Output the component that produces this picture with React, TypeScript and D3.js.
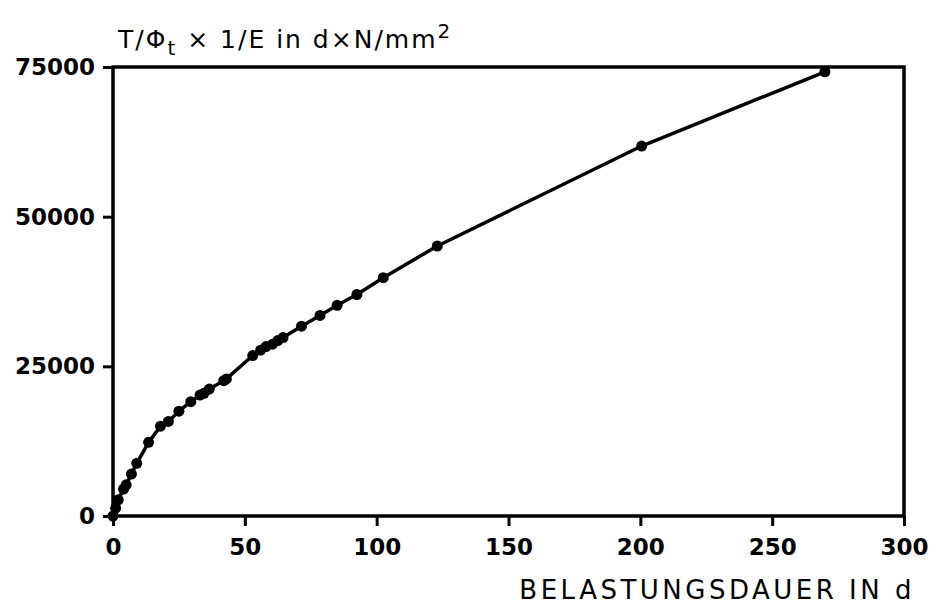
import { useRef, useEffect } from "react";
import * as d3 from "d3";

const days = [0, 1, 2, 4, 5, 7, 9, 13.5, 18, 21, 25, 29.5, 33, 34.5, 36.5, 42, 43, 53, 56, 58, 60.5, 62.5, 64.5, 71.5, 78.5, 85, 92.5, 102.5, 123, 200.5, 270];
const values = [0, 1300, 2700, 4500, 5200, 7000, 8800, 12300, 15000, 15800, 17500, 19100, 20200, 20500, 21200, 22600, 22900, 26800, 27700, 28300, 28700, 29300, 29800, 31700, 33500, 35200, 37000, 39800, 45100, 61800, 74200];
const xTicks = [0, 50, 100, 150, 200, 250, 300];
const yTicks = [0, 25000, 50000, 75000];

const App = () => {
  const ref = useRef<HTMLDivElement>(null);

  useEffect(() => {
    const W = 930;
    const H = 609;
    const margin = { top: 67, right: 26, bottom: 93, left: 113 };
    const width = W - margin.left - margin.right;
    const height = H - margin.top - margin.bottom;
    const font = "'DejaVu Sans', sans-serif";

    const root = d3
      .select(ref.current)
      .html("")
      .append("svg")
      .attr("width", W)
      .attr("height", H)
      .style("position", "absolute")
      .style("left", 0)
      .style("top", 0)
      .style("background", "#fff");

    const svg = root.append("g").attr("transform", `translate(${margin.left},${margin.top})`);

    const x = d3.scaleLinear().domain([0, 300]).range([0, width]);
    const y = d3.scaleLinear().domain([0, 75000]).range([height, 0]);

    const xAxis = svg
      .append("g")
      .attr("transform", `translate(0,${height})`)
      .call(d3.axisBottom(x).tickValues(xTicks).tickSize(10).tickPadding(13).tickFormat(d3.format("d")));
    const yAxis = svg
      .append("g")
      .call(d3.axisLeft(y).tickValues(yTicks).tickSize(10).tickPadding(8).tickFormat(d3.format("d")));

    [xAxis, yAxis].forEach((ax) => {
      ax.select(".domain").remove();
      ax.selectAll("line").attr("stroke", "#000").attr("stroke-width", 3);
      ax.selectAll("text")
        .attr("fill", "#000")
        .style("font-family", font)
        .style("font-weight", "bold")
        .style("font-size", "23px");
    });

    svg
      .append("rect")
      .attr("x", 0)
      .attr("y", 0)
      .attr("width", width)
      .attr("height", height)
      .attr("fill", "none")
      .attr("stroke", "#000")
      .attr("stroke-width", 3.5);

    const pts = days.map((d, i) => [d, values[i]] as [number, number]);

    svg
      .append("path")
      .datum(pts)
      .attr("fill", "none")
      .attr("stroke", "#000")
      .attr("stroke-width", 3.5)
      .attr("stroke-linejoin", "round")
      .attr("d", d3.line<[number, number]>().x((d) => x(d[0])).y((d) => y(d[1])));

    svg
      .selectAll("circle")
      .data(pts)
      .enter()
      .append("circle")
      .attr("cx", (d) => x(d[0]))
      .attr("cy", (d) => y(d[1]))
      .attr("r", 5.5)
      .attr("fill", "#000");

    const title = root
      .append("text")
      .attr("x", 118)
      .attr("y", 48)
      .attr("fill", "#000")
      .style("font-family", font)
      .style("font-size", "25px")
      .style("letter-spacing", "2px");
    title.append("tspan").text("T/Φ");
    title.append("tspan").attr("dy", 7).style("font-size", "20px").text("t");
    title.append("tspan").attr("dy", -7).text(" × 1/E in d×N/mm");
    title.append("tspan").attr("dy", -10).style("font-size", "20px").text("2");

    root
      .append("text")
      .attr("x", 915)
      .attr("y", 599)
      .attr("text-anchor", "end")
      .attr("fill", "#000")
      .style("font-family", font)
      .style("font-size", "26px")
      .style("letter-spacing", "3.5px")
      .text("BELASTUNGSDAUER IN d");
  }, []);

  return <div ref={ref} />;
};

export default App;
